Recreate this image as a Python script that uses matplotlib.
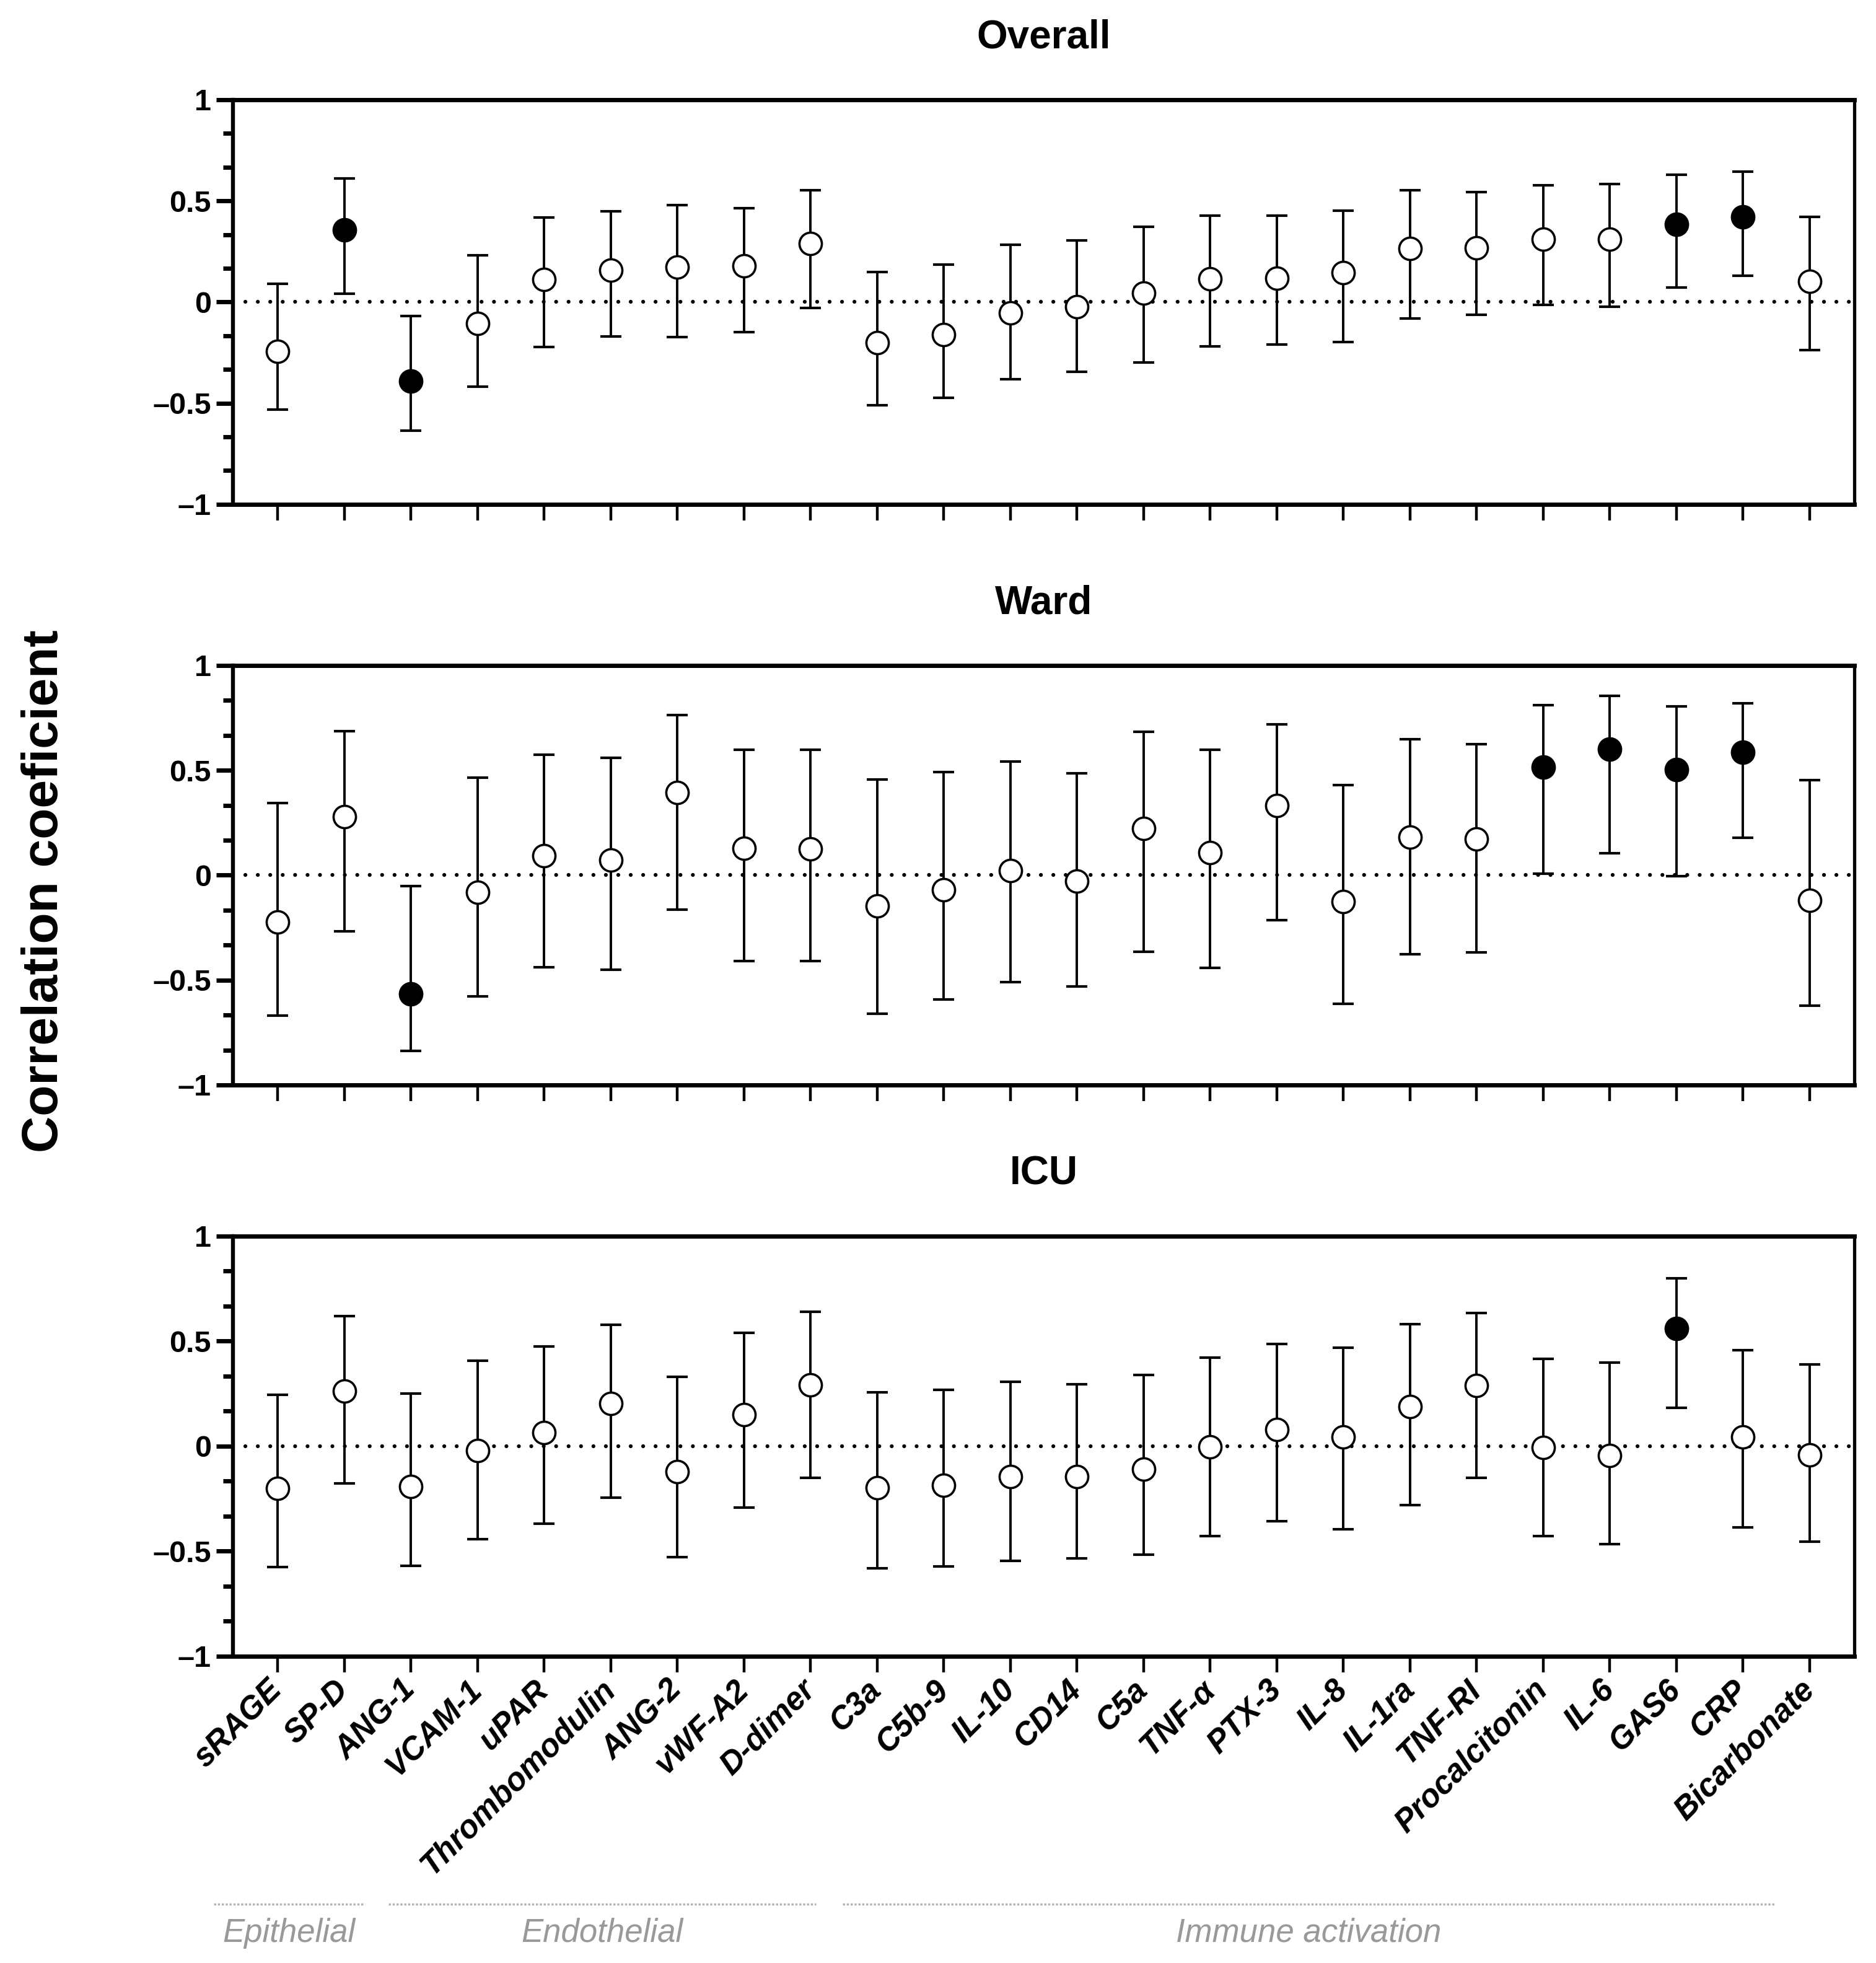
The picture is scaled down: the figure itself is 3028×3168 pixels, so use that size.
import matplotlib.pyplot as plt
import numpy as np
from matplotlib.ticker import AutoMinorLocator
from matplotlib.transforms import blended_transform_factory

plt.rcParams['font.family'] = ['Liberation Sans', 'DejaVu Sans']

# Biomarkers
names = ['sRAGE', 'SP-D', 'ANG-1', 'VCAM-1', 'uPAR', 'Thrombomodulin', 'ANG-2',
         'vWF-A2', 'D-dimer', 'C3a', 'C5b-9', 'IL-10', 'CD14', 'C5a', 'TNF-α',
         'PTX-3', 'IL-8', 'IL-1ra', 'TNF-RI', 'Procalcitonin', 'IL-6', 'GAS6',
         'CRP', 'Bicarbonate']
panel_titles = ['Overall', 'Ward', 'ICU']
y_tick_values = [-1, -0.5, 0, 0.5, 1]
y_tick_labels = ['\u20131', '\u20130.5', '0', '0.5', '1']

# Overall
overall_r = [-0.244, 0.358, -0.390, -0.106, 0.111, 0.156, 0.173, 0.179, 0.289, -0.202,
             -0.161, -0.055, -0.023, 0.045, 0.116, 0.119, 0.144, 0.264, 0.267, 0.312,
             0.312, 0.385, 0.422, 0.103]
overall_lo = [-0.531, 0.040, -0.637, -0.418, -0.222, -0.169, -0.173, -0.149, -0.030, -0.511,
              -0.475, -0.382, -0.344, -0.299, -0.219, -0.211, -0.199, -0.081, -0.063, -0.013,
              -0.023, 0.071, 0.131, -0.237]
overall_hi = [0.091, 0.611, -0.070, 0.232, 0.418, 0.448, 0.478, 0.465, 0.554, 0.149,
              0.186, 0.282, 0.304, 0.373, 0.428, 0.428, 0.453, 0.553, 0.543, 0.578,
              0.583, 0.629, 0.644, 0.422]
overall_sig = [0, 1, 1, 0, 0, 0, 0, 0, 0, 0, 0, 0, 0, 0, 0, 0, 0, 0, 0, 0, 0, 1, 1, 0]

# Ward
ward_r = [-0.222, 0.280, -0.565, -0.080, 0.092, 0.072, 0.395, 0.128, 0.125, -0.145,
          -0.069, 0.023, -0.027, 0.222, 0.109, 0.332, -0.125, 0.182, 0.173, 0.515,
          0.600, 0.503, 0.586, -0.119]
ward_lo = [-0.669, -0.267, -0.839, -0.579, -0.439, -0.452, -0.164, -0.408, -0.410, -0.659,
           -0.591, -0.509, -0.531, -0.366, -0.443, -0.214, -0.612, -0.378, -0.368, 0.008,
           0.104, -0.005, 0.179, -0.622]
ward_hi = [0.345, 0.687, -0.053, 0.466, 0.574, 0.561, 0.764, 0.598, 0.597, 0.455,
           0.491, 0.541, 0.487, 0.683, 0.598, 0.720, 0.430, 0.647, 0.625, 0.811,
           0.855, 0.806, 0.820, 0.452]
ward_sig = [0, 0, 1, 0, 0, 0, 0, 0, 0, 0, 0, 0, 0, 0, 0, 0, 0, 0, 0, 1, 1, 1, 1, 0]

# ICU
icu_r = [-0.200, 0.263, -0.191, -0.021, 0.065, 0.202, -0.120, 0.150, 0.293, -0.199,
         -0.185, -0.144, -0.144, -0.110, -0.002, 0.078, 0.044, 0.187, 0.290, -0.005,
         -0.044, 0.561, 0.044, -0.042]
icu_lo = [-0.576, -0.178, -0.569, -0.442, -0.370, -0.244, -0.527, -0.293, -0.150, -0.582,
          -0.573, -0.545, -0.534, -0.518, -0.427, -0.358, -0.396, -0.280, -0.152, -0.429,
          -0.467, 0.182, -0.387, -0.456]
icu_hi = [0.245, 0.620, 0.251, 0.408, 0.476, 0.578, 0.330, 0.540, 0.640, 0.257,
          0.269, 0.305, 0.296, 0.340, 0.421, 0.486, 0.468, 0.582, 0.635, 0.417,
          0.399, 0.798, 0.457, 0.390]
icu_sig = [0, 0, 0, 0, 0, 0, 0, 0, 0, 0, 0, 0, 0, 0, 0, 0, 0, 0, 0, 0, 0, 1, 0, 0]

# Marker groups along the x axis
group_names = ['Epithelial', 'Endothelial', 'Immune activation']
group_line_x = [(-0.96, 1.31), (1.66, 8.08), (8.48, 22.47)]

panels = [(overall_r, overall_lo, overall_hi, overall_sig),
          (ward_r, ward_lo, ward_hi, ward_sig),
          (icu_r, icu_lo, icu_hi, icu_sig)]

fig = plt.figure(figsize=(30.28, 31.68), dpi=100)
# axes boxes in figure fraction: left, bottom, width, height
boxes = [[0.1242, 0.7431, 0.8642, 0.2061],
         [0.1242, 0.4473, 0.8642, 0.2137],
         [0.1242, 0.1563, 0.8642, 0.2140]]

x = np.arange(len(names))
axes = []
for i, (title, (r, lo, hi, sig)) in enumerate(zip(panel_titles, panels)):
    ax = fig.add_axes(boxes[i])
    axes.append(ax)
    r = np.array(r)
    lo = np.array(lo)
    hi = np.array(hi)
    sig = np.array(sig, dtype=bool)

    ax.axhline(0, color='black', lw=4.5, linestyle=(0, (0.01, 3.2)),
               dash_capstyle='round', zorder=1)
    ax.errorbar(x, r, yerr=[r - lo, hi - r], fmt='none', ecolor='black',
                elinewidth=2.8, capsize=12.5, capthick=3.0, zorder=2)
    ax.plot(x[~sig], r[~sig], 'o', ms=26, mfc='white', mec='black', mew=2.6,
            linestyle='none', zorder=3)
    ax.plot(x[sig], r[sig], 'o', ms=26, mfc='black', mec='black', mew=2.6,
            linestyle='none', zorder=3)

    ax.set_xlim(-0.67, 23.67)
    ax.set_ylim(-1, 1)
    ax.set_yticks(y_tick_values)
    ax.set_yticklabels(y_tick_labels, fontsize=35, fontweight='bold')
    ax.yaxis.set_minor_locator(AutoMinorLocator(3))
    ax.tick_params(axis='y', which='major', length=19.5, width=5, pad=6)
    ax.tick_params(axis='y', which='minor', length=11.5, width=5)
    ax.set_xticks(x)
    ax.tick_params(axis='x', which='major', length=19, width=3.2, pad=15)

    for side in ['top', 'bottom']:
        ax.spines[side].set_linewidth(5)
    ax.spines['left'].set_linewidth(4.6)
    ax.spines['right'].set_linewidth(3.8)

    ax.set_title(title, fontsize=46, fontweight='bold', pad=60)

    if i < 2:
        ax.tick_params(axis='x', labelbottom=False)
    else:
        ax.set_xticklabels(names, rotation=45, ha='right', va='center',
                           rotation_mode='anchor', fontsize=37,
                           fontweight='bold', fontstyle='italic')

fig.text(0.0238, 0.546, 'Correlation coeficient', rotation=90, fontsize=59,
         fontweight='bold', ha='center', va='center')

ax3 = axes[2]
trans = blended_transform_factory(ax3.transData, fig.transFigure)
for name, (a, b) in zip(group_names, group_line_x):
    ax3.plot([a, b], [0.0300, 0.0300], transform=trans, clip_on=False,
             color='#b5b5b5', lw=2.5, linestyle=(0, (1, 0.8)))
    ax3.text((a + b) / 2, 0.0152, name, transform=trans, ha='center',
             va='center', fontsize=38, fontstyle='italic', color='#999999')

fig.savefig('out.png', dpi=100)
